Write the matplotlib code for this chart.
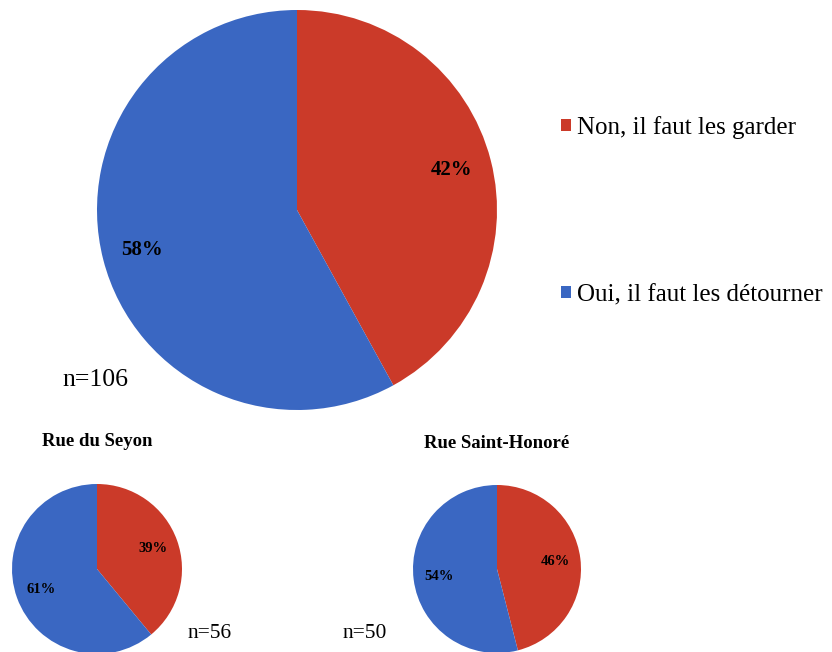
import matplotlib.pyplot as plt

labels = ["Non, il faut les garder", "Oui, il faut les détourner"]
total_vals = [42, 58]
seyon_vals = [39, 61]
honore_vals = [46, 54]
titles = ["Rue du Seyon", "Rue Saint-Honoré"]
n_texts = ["n=106", "n=56", "n=50"]
colors = ["#CB3A29", "#3A67C2"]

plt.rcParams['font.family'] = ['Liberation Serif', 'DejaVu Serif']

W, H = 832, 652
fig = plt.figure(figsize=(W / 100, H / 100), dpi=100)

def add_ax(cx, cy, r):
    return fig.add_axes([(cx - r) / W, (H - cy - r) / H, 2 * r / W, 2 * r / H])

def draw(ax, vals, pd, fs):
    wedges, _, autot = ax.pie(vals, colors=colors, startangle=90, counterclock=False,
                              autopct='%d%%', pctdistance=pd,
                              textprops=dict(fontsize=fs, fontweight='bold', color='black'),
                              wedgeprops=dict(linewidth=0))
    ax.set_aspect('equal')
    ax.set_xlim(-1.0, 1.0)
    ax.set_ylim(-1.0, 1.0)
    return wedges

ax_big = add_ax(297, 210, 200)
wedges = draw(ax_big, total_vals, 0.8, 15)

ax_l = add_ax(97, 569, 85)
draw(ax_l, seyon_vals, 0.7, 10.5)
ax_r = add_ax(497, 569, 84)
draw(ax_r, honore_vals, 0.7, 10.5)

fig.text(97 / W, 1 - 442 / H, titles[0], ha='center', va='center', fontsize=13.5, fontweight='bold')
fig.text(497 / W, 1 - 444 / H, titles[1], ha='center', va='center', fontsize=13.5, fontweight='bold')

fig.text(62 / W, 1 - 380 / H, n_texts[0], ha='left', va='center', fontsize=18.5)
fig.text(188 / W, 1 - 633 / H, n_texts[1], ha='left', va='center', fontsize=15.5)
fig.text(343 / W, 1 - 633 / H, n_texts[2], ha='left', va='center', fontsize=15.5)

fig.legend(wedges, labels, loc='upper left', bbox_to_anchor=(561 / W, 1 - 116 / H),
           frameon=False, fontsize=18, handlelength=0.4, handleheight=0.4,
           handletextpad=0.25, labelspacing=5.8, borderpad=0, borderaxespad=0)

fig.savefig('out.png', dpi=100)
